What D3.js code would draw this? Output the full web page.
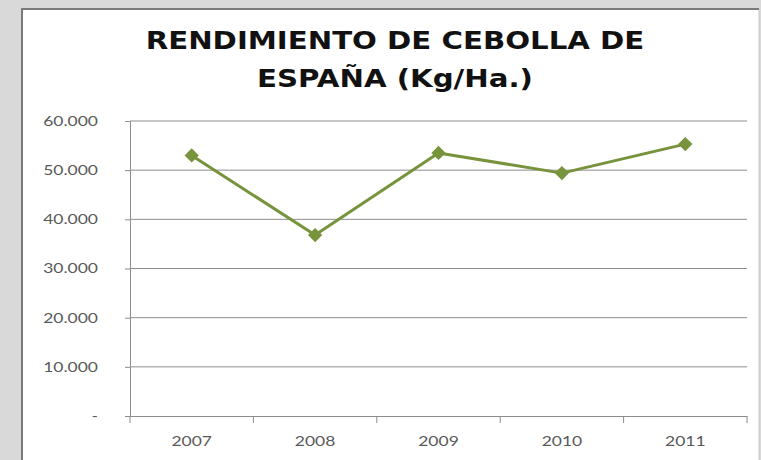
<!DOCTYPE html>
<html>
<head>
<meta charset="utf-8">
<script src="https://cdn.jsdelivr.net/npm/d3@7"></script>
<style>
  body { margin: 0; background: #d9d9d9; }
  svg { display: block; }
</style>
</head>
<body>
<div id="chart"></div>
<script>
// Data
const years = ["2007", "2008", "2009", "2010", "2011"];
const rendimiento = [53000, 36800, 53500, 49400, 55300];
const yTicks = [0, 10000, 20000, 30000, 40000, 50000, 60000];
const titleLines = ["RENDIMIENTO DE CEBOLLA DE", "ESPAÑA (Kg/Ha.)"];

const W = 761, H = 460;
const plot = { left: 130, right: 747, top: 121, bottom: 416 };
const green = "#77933c";
const stretch = 1.25; // the original picture is widened horizontally

const svg = d3.select("#chart").append("svg")
  .attr("width", W).attr("height", H);

// grey frame and white chart area
svg.append("rect").attr("width", W).attr("height", H).attr("fill", "#d9d9d9");
svg.append("rect")
  .attr("x", 22).attr("y", 9).attr("width", W - 24).attr("height", H)
  .attr("fill", "#fff").attr("stroke", "#c8c8c8").attr("stroke-width", 1);
svg.append("path")
  .attr("d", `M22,${H}V9H${W - 2}`)
  .attr("fill", "none").attr("stroke", "#7a7a7a").attr("stroke-width", 2);

// title
svg.append("g")
  .attr("transform", "translate(395,0) scale(1.17,1)")
  .append("text")
  .attr("text-anchor", "middle")
  .attr("font-family", "'DejaVu Sans', Verdana, sans-serif")
  .attr("font-weight", "bold")
  .attr("font-size", 25)
  .attr("fill", "#111")
  .selectAll("tspan")
  .data(titleLines)
  .enter().append("tspan")
  .attr("x", 0)
  .attr("y", (d, i) => 49 + i * 38)
  .text((d) => d);

const x = d3.scaleBand().domain(years).range([plot.left, plot.right]);
const y = d3.scaleLinear().domain([0, 60000]).range([plot.bottom, plot.top]);

const es = d3.formatLocale({ decimal: ",", thousands: ".", grouping: [3], currency: ["", "€"] });
const fmt = (v) => (v === 0 ? "-" : es.format(",")(v));

// gridlines
svg.append("g")
  .selectAll("line")
  .data(yTicks.filter((d) => d > 0))
  .enter().append("line")
  .attr("x1", plot.left).attr("x2", plot.right)
  .attr("y1", (d) => y(d)).attr("y2", (d) => y(d))
  .attr("stroke", "#8c8c8c").attr("stroke-width", 1);

// y axis
const yAxis = svg.append("g")
  .attr("transform", `translate(${plot.left},0)`)
  .call(d3.axisLeft(y).tickValues(yTicks).tickSize(5).tickFormat(fmt));
yAxis.selectAll("path, line").attr("stroke", "#8c8c8c");
yAxis.selectAll("text")
  .attr("x", 0)
  .attr("transform", `translate(-32,0) scale(${stretch},1)`)
  .attr("font-family", "Lato, 'Open Sans', sans-serif")
  .attr("font-size", 14).attr("fill", "#595959");

// x axis (labels centred in bands, ticks at band edges)
const xAxis = svg.append("g")
  .attr("transform", `translate(0,${plot.bottom})`)
  .call(d3.axisBottom(x).tickSize(0).tickPadding(20));
xAxis.select("path").attr("stroke", "#8c8c8c");
xAxis.selectAll("text")
  .attr("transform", `scale(${stretch},1)`)
  .attr("font-family", "Lato, 'Open Sans', sans-serif")
  .attr("font-size", 14).attr("fill", "#595959");
xAxis.selectAll(".edge")
  .data([years[0], ...years])
  .enter().append("line")
  .attr("class", "edge")
  .attr("x1", (d, i) => (i === 0 ? x(d) : x(d) + x.bandwidth()))
  .attr("x2", (d, i) => (i === 0 ? x(d) : x(d) + x.bandwidth()))
  .attr("y1", 0).attr("y2", 7)
  .attr("stroke", "#8c8c8c");

// series
const pts = years.map((yr, i) => ({ yr, v: rendimiento[i] }));
const cx = (d) => x(d.yr) + x.bandwidth() / 2;

svg.append("path")
  .datum(pts)
  .attr("fill", "none")
  .attr("stroke", green)
  .attr("stroke-width", 3)
  .attr("stroke-linejoin", "round")
  .attr("d", d3.line().x(cx).y((d) => y(d.v)));

svg.append("g")
  .selectAll("path")
  .data(pts)
  .enter().append("path")
  .attr("transform", (d) => `translate(${cx(d)},${y(d.v)})`)
  .attr("d", d3.symbol(d3.symbolDiamond2, 130))
  .attr("fill", green);
</script>
</body>
</html>
